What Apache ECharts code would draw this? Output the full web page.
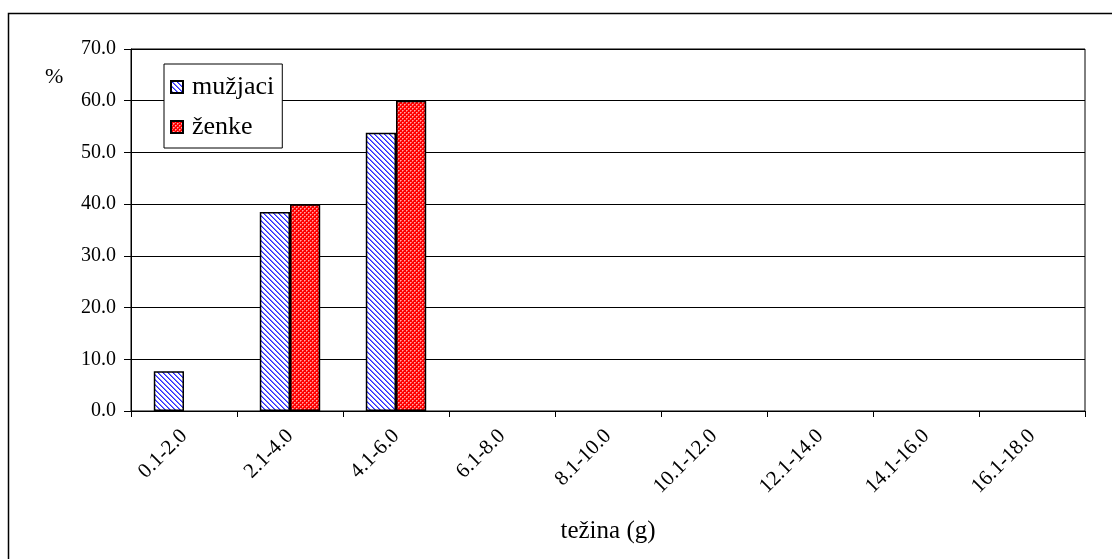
<!DOCTYPE html>
<html>
<head>
<meta charset="utf-8">
<script src="https://cdn.jsdelivr.net/npm/echarts@6/dist/echarts.min.js"></script>
<style>
  html, body { margin: 0; padding: 0; background: #fff; }
  #chart { width: 1112px; height: 559px; }
</style>
</head>
<body>
<div id="chart"></div>
<script>
// Weight classes (g) and share of each sex per class (%)
const categories = ['0.1-2.0', '2.1-4.0', '4.1-6.0', '6.1-8.0', '8.1-10.0',
                    '10.1-12.0', '12.1-14.0', '14.1-16.0', '16.1-18.0'];
const muzjaci = [7.7, 38.5, 53.8, 0, 0, 0, 0, 0, 0];
const zenke   = [0, 40.0, 60.0, 0, 0, 0, 0, 0, 0];
const yTicks = { min: 0, max: 70, interval: 10 };

const FONT = "'Liberation Serif', 'Times New Roman', serif";

// Empty classes get no bar at all
const asBars = arr => arr.map(v => (v === 0 ? '-' : v));

// Blue diagonal hatch on white
function stripePattern() {
  const n = 5;
  const c = document.createElement('canvas');
  c.width = n; c.height = n;
  const g = c.getContext('2d');
  g.fillStyle = '#ffffff';
  g.fillRect(0, 0, n, n);
  for (let y = 0; y < n; y++) {
    for (let x = 0; x < n; x++) {
      const d = ((x - y) % n + n) % n;
      if (d === 0) { g.fillStyle = '#2a2aff'; g.fillRect(x, y, 1, 1); }
      else if (d === 1) { g.fillStyle = '#7a7aff'; g.fillRect(x, y, 1, 1); }
    }
  }
  return { image: c, repeat: 'repeat' };
}

// Red fill with a fine grid of light dots
function dotPattern() {
  const n = 4;
  const c = document.createElement('canvas');
  c.width = n; c.height = n;
  const g = c.getContext('2d');
  g.fillStyle = '#ff0000';
  g.fillRect(0, 0, n, n);
  g.fillStyle = '#ffa8a8';
  g.fillRect(0, 0, 1, 1);
  g.fillRect(2, 2, 1, 1);
  g.fillStyle = '#ff6060';
  g.fillRect(1, 0, 1, 1);
  g.fillRect(0, 1, 1, 1);
  g.fillRect(3, 2, 1, 1);
  g.fillRect(2, 3, 1, 1);
  return { image: c, repeat: 'repeat' };
}

const chart = echarts.init(document.getElementById('chart'), null, { renderer: 'canvas' });

chart.setOption({
  backgroundColor: '#ffffff',
  animation: false,
  textStyle: { fontFamily: FONT, color: '#000' },
  graphic: [
    {
      type: 'rect',
      shape: { x: 8.5, y: 13.5, width: 1200, height: 700 },
      style: { fill: 'none', stroke: '#000', lineWidth: 1.5 },
      silent: true, z: -1
    },
    {
      type: 'text',
      left: 45, top: 66,
      style: { text: '%', font: '22px ' + FONT, fill: '#000' }
    }
  ],
  grid: {
    left: 131, right: 27, top: 49, bottom: 148,
    show: true, borderColor: '#000', borderWidth: 1, backgroundColor: 'transparent'
  },
  legend: {
    orient: 'vertical',
    left: 164, top: 64,
    padding: [10, 8, 8, 6],
    itemGap: 14,
    itemWidth: 12, itemHeight: 12,
    borderColor: '#000', borderWidth: 1,
    backgroundColor: '#fff',
    icon: 'rect',
    textStyle: { fontFamily: FONT, fontSize: 26, color: '#000', padding: [0, 0, 0, 4] },
    data: ['mužjaci', 'ženke']
  },
  xAxis: {
    type: 'category',
    data: categories,
    name: 'težina (g)',
    nameLocation: 'middle',
    nameGap: 108,
    nameTextStyle: { fontFamily: FONT, fontSize: 25, color: '#000' },
    axisLine: { lineStyle: { color: '#000', width: 1 } },
    axisTick: { show: true, length: 6, lineStyle: { color: '#000' } },
    axisLabel: { rotate: 45, margin: 22, fontFamily: FONT, fontSize: 21, color: '#000' },
    splitLine: { show: false }
  },
  yAxis: {
    type: 'value',
    min: yTicks.min, max: yTicks.max, interval: yTicks.interval,
    axisLine: { show: true, lineStyle: { color: '#000', width: 1 } },
    axisTick: { show: true, length: 7, lineStyle: { color: '#000' } },
    axisLabel: {
      margin: 15, fontFamily: FONT, fontSize: 20, color: '#000',
      formatter: v => v.toFixed(1)
    },
    splitLine: { show: true, lineStyle: { color: '#000', width: 1 } }
  },
  series: [
    {
      name: 'mužjaci',
      type: 'bar',
      data: asBars(muzjaci),
      barGap: '0%',
      barCategoryGap: '43%',
      itemStyle: { color: stripePattern(), borderColor: '#000', borderWidth: 1.5 }
    },
    {
      name: 'ženke',
      type: 'bar',
      data: asBars(zenke),
      itemStyle: { color: dotPattern(), borderColor: '#000', borderWidth: 1.5 }
    }
  ]
});
</script>
</body>
</html>
